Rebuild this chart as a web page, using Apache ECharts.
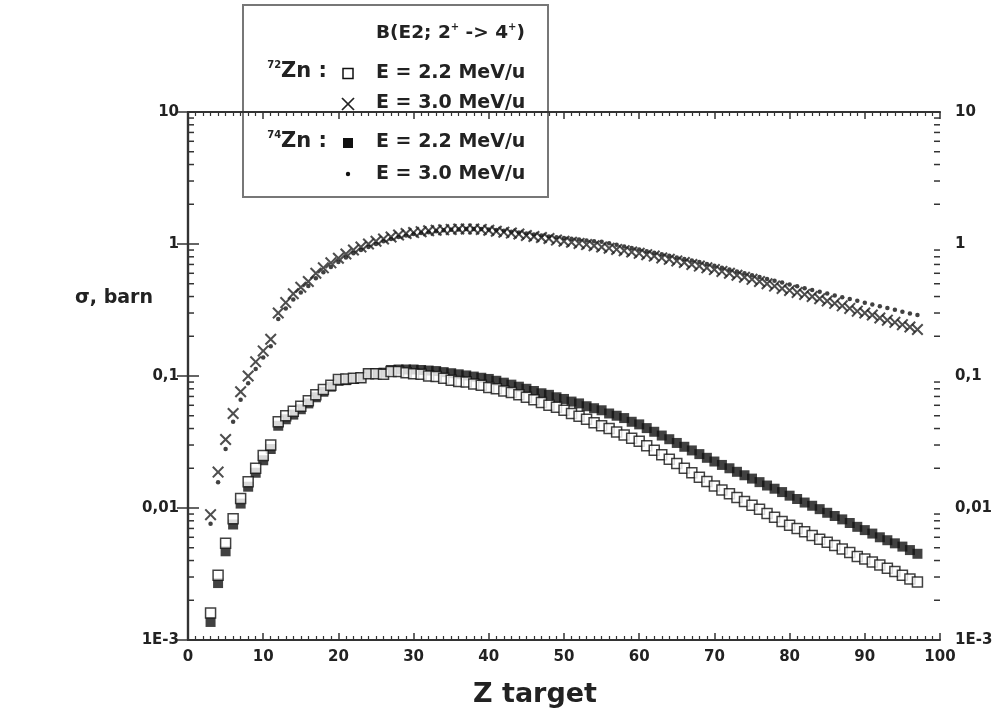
<!DOCTYPE html>
<html><head><meta charset="utf-8">
<script src="https://cdn.jsdelivr.net/npm/echarts@6/dist/echarts.min.js"></script>
<style>html,body{margin:0;padding:0;background:#fff}#c{width:1000px;height:726px}</style>
</head><body><div id="c"></div><script>
const zTarget = [3,4,5,6,7,8,9,10,11,12,13,14,15,16,17,18,19,20,21,22,23,24,25,26,27,28,29,30,31,32,33,34,35,36,37,38,39,40,41,42,43,44,45,46,47,48,49,50,51,52,53,54,55,56,57,58,59,60,61,62,63,64,65,66,67,68,69,70,71,72,73,74,75,76,77,78,79,80,81,82,83,84,85,86,87,88,89,90,91,92,93,94,95,96,97];
// 72Zn, E = 2.2 MeV/u (open squares)
const zn72_E22 = [0.0016,0.0031,0.0054,0.0083,0.0118,0.0158,0.020,0.025,0.030,0.045,0.050,0.054,0.059,0.065,0.072,0.079,0.085,0.094,0.095,0.096,0.097,0.104,0.104,0.103,0.108,0.108,0.106,0.104,0.103,0.100,0.099,0.096,0.093,0.091,0.090,0.087,0.085,0.082,0.080,0.077,0.075,0.072,0.069,0.066,0.063,0.060,0.058,0.055,0.052,0.0495,0.047,0.0443,0.042,0.040,0.0377,0.0357,0.0338,0.032,0.0296,0.0274,0.0253,0.0234,0.0217,0.0200,0.0185,0.0171,0.0159,0.0147,0.0137,0.0128,0.0120,0.0112,0.0105,0.0098,0.0091,0.0085,0.0079,0.0074,0.0070,0.0066,0.0062,0.0058,0.0055,0.0052,0.0049,0.0046,0.0043,0.0041,0.0039,0.0037,0.0035,0.0033,0.0031,0.0029,0.00275];
// 72Zn, E = 3.0 MeV/u (crosses)
const zn72_E30 = [0.0089,0.0187,0.033,0.052,0.076,0.10,0.128,0.155,0.19,0.30,0.36,0.42,0.47,0.52,0.60,0.66,0.72,0.78,0.84,0.90,0.95,1.0,1.05,1.09,1.13,1.17,1.2,1.22,1.24,1.26,1.27,1.28,1.29,1.3,1.3,1.3,1.29,1.27,1.25,1.23,1.21,1.19,1.16,1.14,1.12,1.10,1.07,1.05,1.03,1.01,0.99,0.97,0.95,0.93,0.91,0.89,0.87,0.85,0.83,0.81,0.785,0.765,0.745,0.725,0.70,0.68,0.66,0.64,0.62,0.60,0.58,0.56,0.54,0.52,0.50,0.48,0.46,0.445,0.43,0.415,0.40,0.385,0.37,0.355,0.34,0.325,0.31,0.30,0.29,0.275,0.265,0.255,0.245,0.235,0.225];
// 74Zn, E = 2.2 MeV/u (filled squares)
const zn74_E22 = [0.00137,0.0027,0.0047,0.0075,0.0108,0.0145,0.0185,0.023,0.028,0.042,0.047,0.051,0.056,0.062,0.069,0.076,0.083,0.092,0.093,0.095,0.097,0.104,0.105,0.106,0.111,0.112,0.112,0.112,0.111,0.110,0.109,0.107,0.105,0.103,0.101,0.099,0.097,0.095,0.092,0.089,0.086,0.083,0.080,0.077,0.074,0.072,0.069,0.067,0.064,0.062,0.059,0.057,0.055,0.052,0.050,0.048,0.045,0.043,0.0403,0.0378,0.0354,0.0332,0.0311,0.0291,0.0273,0.0256,0.0240,0.0225,0.0212,0.0200,0.0188,0.0177,0.0167,0.0157,0.0148,0.0140,0.0132,0.0124,0.0117,0.0110,0.0104,0.0098,0.0092,0.0087,0.0082,0.0077,0.0072,0.0068,0.0064,0.0060,0.0057,0.0054,0.0051,0.0048,0.0045];
// 74Zn, E = 3.0 MeV/u (dots)
const zn74_E30 = [0.0076,0.0157,0.028,0.045,0.066,0.088,0.113,0.138,0.168,0.27,0.325,0.38,0.43,0.48,0.55,0.61,0.67,0.73,0.79,0.85,0.90,0.95,1.0,1.05,1.09,1.13,1.16,1.19,1.21,1.23,1.25,1.27,1.28,1.29,1.3,1.3,1.3,1.29,1.275,1.26,1.24,1.22,1.20,1.18,1.16,1.14,1.125,1.11,1.095,1.08,1.065,1.05,1.04,1.012,0.985,0.958,0.932,0.907,0.883,0.859,0.836,0.813,0.791,0.770,0.749,0.73,0.707,0.684,0.662,0.641,0.620,0.600,0.581,0.562,0.544,0.527,0.510,0.494,0.478,0.463,0.449,0.435,0.421,0.408,0.395,0.383,0.371,0.359,0.348,0.337,0.327,0.317,0.307,0.298,0.29];

const yTickValues = [0.001, 0.01, 0.1, 1, 10];
const yTickLabels = ['1E-3', '0,01', '0,1', '1', '10'];
const yMinorTicks = [0.002,0.003,0.004,0.005,0.006,0.007,0.008,0.009,0.02,0.03,0.04,0.05,0.06,0.07,0.08,0.09,0.2,0.3,0.4,0.5,0.6,0.7,0.8,0.9,2,3,4,5,6,7,8,9];

const FONT = '"DejaVu Sans", "Liberation Sans", sans-serif';
const INK = '#222';

function yFmt(v) {
  for (let i = 0; i < yTickValues.length; i++) {
    if (Math.abs(Math.log10(v) - Math.log10(yTickValues[i])) < 1e-6) return yTickLabels[i];
  }
  return '';
}
const pairs = arr => zTarget.map((z, i) => [z, arr[i]]);

const lbl = {fontFamily: FONT, fontWeight: 'bold', fontSize: 15, color: INK};
const axLine = {show: true, lineStyle: {color: '#333', width: 2.2}};

const xCommon = {
  type: 'value', min: 0, max: 100, interval: 10,
  axisLine: axLine,
  axisTick: {show: true, inside: true, length: 7, lineStyle: {color: '#333', width: 1.5}},
  minorTick: {show: true, splitNumber: 10, length: 4, lineStyle: {color: '#333', width: 1.2}},
  splitLine: {show: false}
};
const yCommon = {
  type: 'log', logBase: 10, min: 0.001, max: 10, splitNumber: 4,
  axisLine: axLine,
  axisTick: {show: true, inside: true, length: 11, lineStyle: {color: '#333', width: 1.5}},
  splitLine: {show: false}
};

const XPATH = 'path://M0,1.2 L1.2,0 L5,3.8 L8.8,0 L10,1.2 L6.2,5 L10,8.8 L8.8,10 L5,6.2 L1.2,10 L0,8.8 L3.8,5 Z';

const chart = echarts.init(document.getElementById('c'), null, {renderer: 'canvas'});
chart.setOption({
  backgroundColor: '#fff',
  animation: false,
  grid: {left: 188, right: 60, top: 112, bottom: 86},
  xAxis: [
    Object.assign({}, xCommon, {position: 'bottom', axisLabel: Object.assign({margin: 10}, lbl)}),
    Object.assign({}, xCommon, {position: 'top', axisLabel: {show: false}})
  ],
  yAxis: [
    Object.assign({}, yCommon, {position: 'left', axisLabel: Object.assign({margin: 9, formatter: yFmt}, lbl)}),
    Object.assign({}, yCommon, {position: 'right', axisLabel: Object.assign({margin: 15, formatter: yFmt}, lbl)})
  ],
  series: [
    {
      type: 'custom', name: 'minor', silent: true, xAxisIndex: 0, yAxisIndex: 0,
      data: yMinorTicks.map(v => [0, v]),
      renderItem: (params, api) => {
        const v = api.value(1);
        const l = api.coord([0, v]);
        const r = api.coord([100, v]);
        return {type: 'group', children: [
          {type: 'line', shape: {x1: l[0], y1: l[1], x2: l[0] + 6, y2: l[1]}, style: {stroke: '#333', lineWidth: 1.5}},
          {type: 'line', shape: {x1: r[0] - 6, y1: r[1], x2: r[0], y2: r[1]}, style: {stroke: '#333', lineWidth: 1.5}}
        ]};
      }
    },
    {type: 'scatter', name: '74Zn 2.2', silent: true, data: pairs(zn74_E22), symbol: 'rect', symbolSize: 10, itemStyle: {color: '#111'}},
    {type: 'scatter', name: '72Zn 2.2', silent: true, data: pairs(zn72_E22), symbol: 'rect', symbolSize: 10, itemStyle: {color: '#fff', borderColor: '#111', borderWidth: 1.5}},
    {type: 'scatter', name: '72Zn 3.0', silent: true, data: pairs(zn72_E30), symbol: XPATH, symbolSize: 12, itemStyle: {color: '#222'}},
    {type: 'scatter', name: '74Zn 3.0', silent: true, data: pairs(zn74_E30), symbol: 'circle', symbolSize: 4.5, itemStyle: {color: '#111'}}
  ],
  graphic: [
    {type: 'text', z: 50, x: 75, y: 298, style: {text: 'σ, barn', font: 'bold 19px ' + FONT, fill: INK, verticalAlign: 'middle'}},
    {type: 'text', z: 50, x: 535, y: 695, style: {text: 'Z target', font: 'bold 27px ' + FONT, fill: INK, align: 'center', verticalAlign: 'middle'}},
    {type: 'group', z: 100, children: [
      {type: 'rect', shape: {x: 243, y: 5, width: 305, height: 192}, style: {fill: '#fff', stroke: '#777', lineWidth: 2}},
      {type: 'text', x: 376, y: 33, style: {text: 'B(E2; 2{s|+} -> 4{s|+})', font: 'bold 18.5px ' + FONT, fill: INK, verticalAlign: 'middle',
        rich: {s: {font: 'bold 10px ' + FONT, fill: INK, padding: [0, 0, 11, 0]}}}},
      {type: 'text', x: 327, y: 72, style: {text: '{s|72}Zn :', font: 'bold 21px ' + FONT, fill: INK, align: 'right', verticalAlign: 'middle',
        rich: {s: {font: 'bold 10px ' + FONT, fill: INK, padding: [0, 0, 13, 0]}}}},
      {type: 'text', x: 327, y: 142, style: {text: '{s|74}Zn :', font: 'bold 21px ' + FONT, fill: INK, align: 'right', verticalAlign: 'middle',
        rich: {s: {font: 'bold 10px ' + FONT, fill: INK, padding: [0, 0, 13, 0]}}}},
      {type: 'rect', shape: {x: 343, y: 68.5, width: 10, height: 10}, style: {fill: '#fff', stroke: '#111', lineWidth: 1.5}},
      {type: 'line', shape: {x1: 342, y1: 98, x2: 354, y2: 110}, style: {stroke: '#222', lineWidth: 1.7}},
      {type: 'line', shape: {x1: 354, y1: 98, x2: 342, y2: 110}, style: {stroke: '#222', lineWidth: 1.7}},
      {type: 'rect', shape: {x: 343, y: 138, width: 10, height: 10}, style: {fill: '#111'}},
      {type: 'circle', shape: {cx: 348, cy: 174, r: 2.2}, style: {fill: '#111'}},
      {type: 'text', x: 376, y: 73, style: {text: 'E = 2.2 MeV/u', font: 'bold 19px ' + FONT, fill: INK, verticalAlign: 'middle'}},
      {type: 'text', x: 376, y: 103, style: {text: 'E = 3.0 MeV/u', font: 'bold 19px ' + FONT, fill: INK, verticalAlign: 'middle'}},
      {type: 'text', x: 376, y: 142, style: {text: 'E = 2.2 MeV/u', font: 'bold 19px ' + FONT, fill: INK, verticalAlign: 'middle'}},
      {type: 'text', x: 376, y: 174, style: {text: 'E = 3.0 MeV/u', font: 'bold 19px ' + FONT, fill: INK, verticalAlign: 'middle'}}
    ]}
  ]
});
</script></body></html>
